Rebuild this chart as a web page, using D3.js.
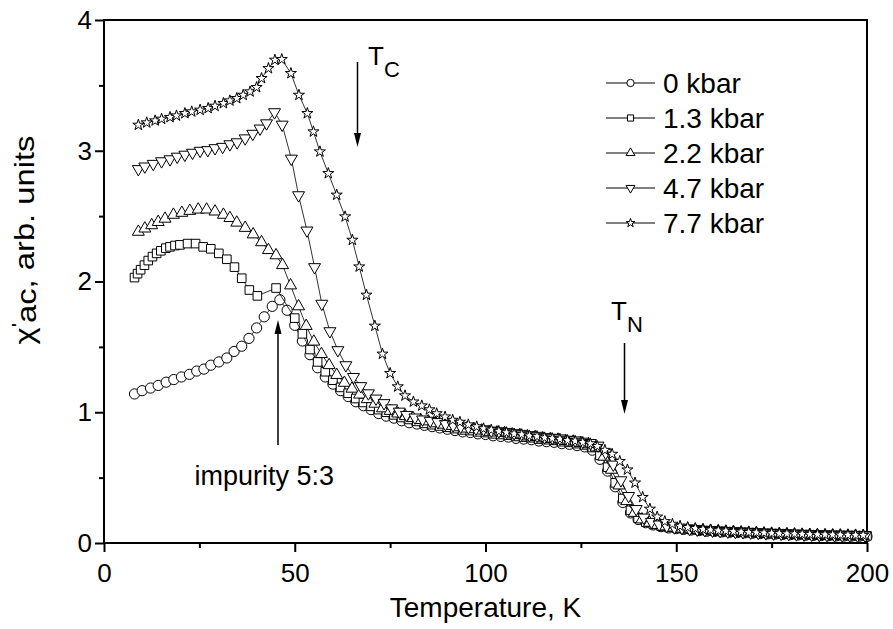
<!DOCTYPE html>
<html>
<head>
<meta charset="utf-8">
<script src="https://cdn.jsdelivr.net/npm/d3@7"></script>
<style>
body { margin: 0; background: #fff; }
svg { display: block; font-family: "Liberation Sans", Arial, sans-serif; }
</style>
</head>
<body>
<svg id="chart" width="893" height="629"></svg>
<script>
// [temperature K, chi'ac]
var kbar0 = [[8,1.14],[10,1.165],[12.2,1.185],[14.2,1.205],[16.3,1.23],[18.3,1.25],[20.3,1.27],[22.4,1.29],[24.3,1.315],[26.2,1.33],[28,1.36],[30.1,1.385],[32.2,1.415],[34.1,1.465],[36.1,1.505],[38,1.565],[40,1.645],[42,1.73],[44.1,1.81],[46.1,1.86],[48,1.78],[50,1.665],[52,1.545],[54,1.44],[56,1.34],[58,1.27],[60,1.215],[62,1.165],[64,1.12],[66,1.08],[68,1.05],[70,1.02],[72,0.99],[74,0.97],[76,0.955],[78,0.935],
  [80,0.92],[82,0.91],[84,0.9],[86,0.89],[88,0.88],[90,0.87],[92,0.86],[94,0.85],[96,0.845],[98,0.835],[100,0.83],[102,0.82],[104,0.815],[106,0.81],[108,0.8],[110,0.795],[112,0.79],[114,0.78],[116,0.775],[118,0.77],[120,0.76],[122,0.755],[124,0.745],[126,0.735],[128,0.71],[130,0.64],[132,0.55],[134,0.43],[136,0.31],[138,0.23],[140,0.18],[142,0.155],[144,0.138],[146,0.125],[148,0.115],[150,0.11],[152,0.105],[154,0.1],[156,0.095],[158,0.09],[160,0.088],[162,0.085],[164,0.082],[166,0.08],[168,0.078],[170,0.075],[172,0.072],[174,0.07],[176,0.068],[178,0.066],[180,0.064],[182,0.062],[184,0.06],[186,0.058],[188,0.057],[190,0.056],[192,0.055],[194,0.054],[196,0.053],[198,0.052],[200,0.05]];

var kbar13 = [[8,2.03],[8.8,2.06],[9.6,2.09],[10.6,2.125],[11.6,2.16],[12.7,2.19],[13.8,2.215],[14.9,2.235],[16.2,2.255],[17.3,2.265],[18.6,2.275],[19.9,2.28],[21.9,2.29],[24,2.29],[26,2.265],[28,2.25],[30.1,2.215],[32.2,2.17],[34.2,2.11],[36.1,2.025],[38.1,1.935],[40.2,1.89],[45.1,1.95],[50,1.72],[52,1.6],[54,1.48],[56,1.385],[58,1.31],[60,1.245],[62,1.19],[64,1.145],[66,1.105],[68,1.075],[70,1.045],[72,1.02],[74,1],[76,0.98],[78,0.96],
  [80,0.945],[82,0.93],[84,0.915],[86,0.905],[88,0.895],[90,0.885],[92,0.875],[94,0.865],[96,0.86],[98,0.85],[100,0.845],[102,0.835],[104,0.83],[106,0.825],[108,0.815],[110,0.81],[112,0.805],[114,0.795],[116,0.79],[118,0.785],[120,0.775],[122,0.77],[124,0.76],[126,0.75],[128,0.73],[130,0.67],[132,0.58],[134,0.46],[136,0.34],[138,0.25],[140,0.19],[142,0.16],[144,0.142],[146,0.13],[148,0.12],[150,0.115],[152,0.108],[154,0.103],[156,0.098],[158,0.094],[160,0.09],[162,0.087],[164,0.084],[166,0.082],[168,0.08],[170,0.077],[172,0.075],[174,0.072],[176,0.07],[178,0.068],[180,0.066],[182,0.064],[184,0.062],[186,0.061],[188,0.06],[190,0.058],[192,0.057],[194,0.056],[196,0.056],[198,0.055],[200,0.055]];

var kbar22 = [[9,2.38],[10.7,2.405],[12.5,2.43],[14.2,2.455],[16,2.48],[18.2,2.51],[20.4,2.525],[22.5,2.54],[24.7,2.55],[26.9,2.55],[29.1,2.535],[31.3,2.51],[33,2.485],[34.8,2.45],[37,2.41],[39.1,2.36],[41.3,2.3],[43.1,2.24],[45.1,2.2],[46.8,2.125],[48.9,1.97],[51,1.81],[53,1.66],[55,1.54],[57,1.445],[59,1.36],[61,1.285],[63,1.225],[65,1.18],[67,1.135],[69,1.1],[71,1.065],[73,1.03],[75,1.01],[77,0.99],[79,0.97],
  [81,0.955],[83,0.94],[85,0.93],[87,0.915],[89,0.905],[91,0.895],[93,0.885],[95,0.875],[97,0.87],[99,0.86],[101,0.85],[103,0.845],[105,0.84],[107,0.83],[109,0.825],[111,0.815],[113,0.81],[115,0.8],[117,0.795],[119,0.79],[121,0.78],[123,0.775],[125,0.765],[127,0.755],[129,0.73],[131,0.66],[133,0.56],[135,0.44],[137,0.32],[139,0.23],[141,0.18],[143,0.155],[145,0.138],[147,0.127],[149,0.118],[151,0.11],[153,0.105],[155,0.1],[157,0.097],[159,0.093],[161,0.09],[163,0.087],[165,0.084],[167,0.081],[169,0.078],[171,0.076],[173,0.073],[175,0.071],[177,0.069],[179,0.067],[181,0.065],[183,0.063],[185,0.062],[187,0.06],[189,0.059],[191,0.058],[193,0.057],[195,0.056],[197,0.055],[199,0.054]];

var kbar47 = [[9,2.86],[10.7,2.88],[12.9,2.9],[15.1,2.92],[17.3,2.935],[19.2,2.955],[21.2,2.97],[23.2,2.985],[25.2,3],[27.2,3.005],[29.1,3.02],[31.1,3.03],[33,3.05],[34.9,3.065],[37,3.095],[39,3.13],[40.9,3.17],[42.6,3.21],[44.7,3.295],[46.7,3.2],[49.1,2.94],[51,2.66],[53.2,2.39],[55.2,2.11],[57.1,1.83],[59.2,1.62],[61.3,1.475],[63.4,1.36],[65.4,1.27],[67.3,1.2],[69.3,1.145],[71.3,1.105],[73.4,1.07],[75.4,1.03],[77.4,1.005],[79.3,0.98],
  [81.5,0.96],[83.5,0.945],[85.5,0.935],[87.5,0.925],[89.5,0.91],[91.5,0.9],[93.5,0.89],[95.5,0.885],[97.5,0.875],[99.5,0.87],[101.5,0.86],[103.5,0.855],[105.5,0.85],[107.5,0.84],[109.5,0.835],[111.5,0.825],[113.5,0.82],[115.5,0.81],[117.5,0.805],[119.5,0.8],[121.5,0.79],[123.5,0.785],[125.5,0.775],[127.5,0.765],[129.5,0.745],[131.5,0.69],[133.5,0.6],[135.5,0.48],[137.5,0.36],[139.5,0.26],[141.5,0.195],[143.5,0.162],[145.5,0.142],[147.5,0.13],[149.5,0.12],[151.5,0.115],[153.5,0.108],[155.5,0.103],[157.5,0.099],[159.5,0.095],[161.5,0.092],[163.5,0.088],[165.5,0.085],[167.5,0.083],[169.5,0.08],[171.5,0.078],[173.5,0.075],[175.5,0.073],[177.5,0.071],[179.5,0.069],[181.5,0.067],[183.5,0.065],[185.5,0.064],[187.5,0.062],[189.5,0.061],[191.5,0.06],[193.5,0.059],[195.5,0.058],[197.5,0.058],[199.5,0.057]];

var kbar77 = [[9,3.197],[11.2,3.215],[13.4,3.23],[15.1,3.243],[17.3,3.256],[19,3.268],[21.2,3.286],[23,3.299],[25.2,3.312],[27.3,3.325],[29.1,3.342],[31.3,3.363],[33,3.383],[34.8,3.401],[36.5,3.426],[38.3,3.452],[40,3.485],[41.3,3.554],[43.1,3.63],[44.8,3.694],[46.6,3.699],[49,3.592],[51.1,3.426],[53.3,3.286],[54.9,3.146],[56.6,2.993],[58.8,2.827],[61,2.662],[63.2,2.496],[65.1,2.317],[66.9,2.113],[68.8,1.897],[71,1.66],[73,1.446],[75,1.298],[77,1.196],[78.9,1.127],
  [81.1,1.08],[83.3,1.05],[85.3,1.02],[87.2,0.99],[89.4,0.965],[91.4,0.94],[93.3,0.925],[95.5,0.905],[97.7,0.89],[99.5,0.875],[101.5,0.865],[103.5,0.855],[105.5,0.845],[107.5,0.835],[109.5,0.83],[111.5,0.82],[113.5,0.815],[115.5,0.805],[117.5,0.8],[119.5,0.795],[121.5,0.785],[123.5,0.78],[125.5,0.77],[127.5,0.76],[129.3,0.74],[131.3,0.71],[133.2,0.68],[135.2,0.625],[137.2,0.56],[139.2,0.46],[141.2,0.35],[143.1,0.26],[145,0.2],[147,0.165],[149,0.145],[151,0.13],[153,0.12],[155,0.112],[157,0.105],[159,0.1],[161,0.095],[163,0.092],[165,0.088],[167,0.085],[169,0.082],[171,0.08],[173,0.078],[175,0.075],[177,0.073],[179,0.071],[181,0.07],[183,0.068],[185,0.067],[187,0.065],[189,0.064],[191,0.063],[193,0.062],[195,0.061],[197,0.06],[199,0.06]];

var seriesNames = ['0 kbar', '1.3 kbar', '2.2 kbar', '4.7 kbar', '7.7 kbar'];
var xTicks = [0, 50, 100, 150, 200];
var xMinor = [25, 75, 125, 175];
var yTicks = [0, 1, 2, 3, 4];
var yMinor = [0.5, 1.5, 2.5, 3.5];

var data = [kbar0, kbar13, kbar22, kbar47, kbar77];
var symbols = [d3.symbolCircle, d3.symbolSquare, d3.symbolTriangle, d3.symbolTriangle, d3.symbolStar];
var symSize = [82, 74, 62, 62, 38];
var legSize = [42, 38, 34, 34, 24];
var symRot = [0, 0, 0, 180, 0];

var svg = d3.select('#chart');
var margin = { top: 20, right: 26, bottom: 86, left: 104 },
    width = 893 - margin.left - margin.right,
    height = 629 - margin.top - margin.bottom;

var xScale = d3.scaleLinear().domain([0, 200]).range([0, width]);
var yScale = d3.scaleLinear().domain([0, 4]).range([height, 0]);

var g = svg.append('g').attr('transform', `translate(${margin.left},${margin.top})`);

// axes
g.append('g')
    .attr('transform', `translate(0,${height})`)
    .call(d3.axisBottom(xScale).tickValues(xTicks).tickSize(9).tickSizeOuter(0).tickPadding(12));
g.append('g')
    .attr('transform', `translate(0,${height})`)
    .call(d3.axisBottom(xScale).tickValues(xMinor).tickSize(5).tickSizeOuter(0).tickFormat(''));
g.append('g')
    .call(d3.axisLeft(yScale).tickValues(yTicks).tickSize(9).tickSizeOuter(0).tickPadding(3).tickFormat(d3.format('d')));
g.append('g')
    .call(d3.axisLeft(yScale).tickValues(yMinor).tickSize(5).tickSizeOuter(0).tickFormat(''));
g.selectAll('.domain').remove();
g.selectAll('.tick line').attr('stroke', '#000').attr('stroke-width', 2);
g.selectAll('.tick text').attr('fill', '#000').style('font-size', '26px').style('font-family', '"Liberation Sans", Arial, sans-serif');

// frame
g.append('rect')
    .attr('width', width).attr('height', height)
    .attr('fill', 'none').attr('stroke', '#000').attr('stroke-width', 2);

// axis titles
g.append('text')
    .attr('x', xScale(100)).attr('y', height + 74)
    .attr('text-anchor', 'middle')
    .style('font-size', '28px')
    .text('Temperature, K');

// y title is drawn a bit stretched along its length, like the original
var yt = svg.append('text')
    .attr('transform', 'translate(34,240) rotate(-90) scale(1.17,1)')
    .attr('text-anchor', 'middle')
    .style('font-size', '28px');
yt.append('tspan').text('χ');
yt.append('tspan').attr('dy', -9).style('font-size', '19px').text("'");
yt.append('tspan').attr('dy', 11).text('ac');
yt.append('tspan').attr('dy', -2).text(', arb. units');

// data
var line = d3.line().x(d => xScale(d[0])).y(d => yScale(d[1]));

data.forEach(function (series, i) {
    var sg = g.append('g');
    sg.append('path')
        .datum(series)
        .attr('d', line)
        .attr('fill', 'none')
        .attr('stroke', '#000')
        .attr('stroke-width', 0.8);
    sg.selectAll('path.pt')
        .data(series)
        .enter().append('path')
        .attr('class', 'pt')
        .attr('d', d3.symbol().type(symbols[i]).size(symSize[i]))
        .attr('transform', d => `translate(${xScale(d[0])},${yScale(d[1])}) rotate(${symRot[i]})`)
        .attr('fill', '#fff')
        .attr('stroke', '#000')
        .attr('stroke-width', 1);
});

// legend
var legend = svg.append('g').attr('transform', 'translate(606,83)');
seriesNames.forEach(function (name, i) {
    var row = legend.append('g').attr('transform', `translate(0,${i * 35})`);
    row.append('line').attr('x1', 0).attr('x2', 49).attr('stroke', '#000').attr('stroke-width', 1);
    row.append('path')
        .attr('d', d3.symbol().type(symbols[i]).size(legSize[i]))
        .attr('transform', `translate(24.5,0) rotate(${symRot[i]})`)
        .attr('fill', '#fff').attr('stroke', '#000').attr('stroke-width', 1);
    row.append('text')
        .attr('x', 57).attr('dy', '0.36em')
        .style('font-size', '28px')
        .text(name);
});

// annotations
function arrow(x, yFrom, yTo) {
    var dir = yTo > yFrom ? 1 : -1;
    svg.append('line')
        .attr('x1', x).attr('x2', x).attr('y1', yFrom).attr('y2', yTo - dir * 10)
        .attr('stroke', '#000').attr('stroke-width', 1.5);
    svg.append('path')
        .attr('d', `M${x},${yTo} L${x - 3.5},${yTo - dir * 14} L${x + 3.5},${yTo - dir * 14} Z`)
        .attr('fill', '#000');
}
arrow(357.5, 62, 147);
var tc = svg.append('text').attr('x', 368).attr('y', 65).style('font-size', '26px');
tc.append('tspan').text('T');
tc.append('tspan').attr('dy', 12).style('font-size', '22px').text('C');

arrow(624.5, 343, 414);
var tn = svg.append('text').attr('x', 611).attr('y', 320).style('font-size', '26px');
tn.append('tspan').text('T');
tn.append('tspan').attr('dy', 12).style('font-size', '22px').text('N');

arrow(278, 445, 320);
svg.append('text')
    .attr('x', 334).attr('y', 485)
    .attr('text-anchor', 'end')
    .style('font-size', '27px')
    .text('impurity 5:3');
</script>
</body>
</html>
